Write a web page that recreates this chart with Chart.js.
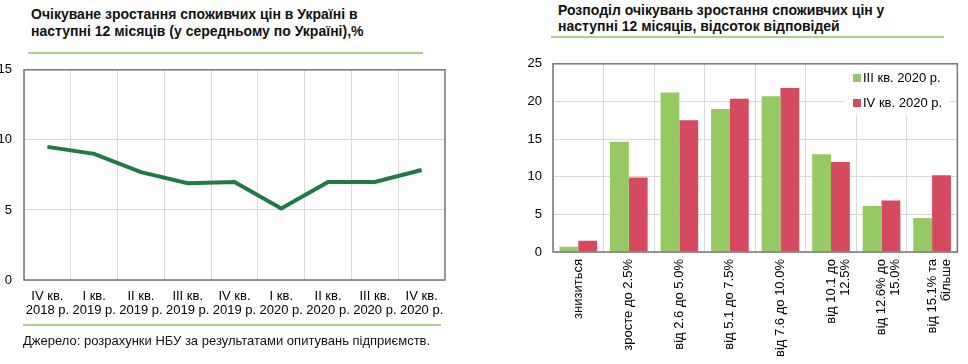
<!DOCTYPE html>
<html><head><meta charset="utf-8">
<script src="https://cdn.jsdelivr.net/npm/chart.js@4/dist/chart.umd.min.js"></script>
<style>
html,body{margin:0;padding:0;background:#fff;width:968px;height:364px;overflow:hidden;font-family:"Liberation Sans",Arial,sans-serif;}
.t{position:absolute;font-weight:bold;font-size:14px;color:#111;}
.gl{position:absolute;height:2px;background:#a9d18e;}
canvas{position:absolute;}
.src{position:absolute;font-size:13px;color:#111;}
</style></head><body>
<div class="t" style="left:31px;top:6px;line-height:17px;">Очікуване зростання споживчих цін в Україні в<br>наступні 12 місяців (у середньому по Україні),%</div>
<div class="gl" style="left:28px;top:52px;width:395px;"></div>
<div class="t" style="left:558px;top:3px;line-height:15.5px;">Розподіл очікувань зростання споживчих цін у<br>наступні 12 місяців, відсоток відповідей</div>
<div class="gl" style="left:551px;top:36px;width:393px;"></div>
<canvas id="c1" width="455" height="300" style="left:0;top:50px;"></canvas>
<canvas id="c2" width="478" height="319" style="left:490px;top:45px;"></canvas>
<div class="gl" style="left:23px;top:324px;width:418px;"></div>
<div class="src" style="left:23px;top:333px;">Джерело: розрахунки НБУ за результатами опитувань підприємств.</div>
<script>
const quarters = [["IV кв.","2018 р."],["I кв.","2019 р."],["II кв.","2019 р."],["III кв.","2019 р."],["IV кв.","2019 р."],["I кв.","2020 р."],["II кв.","2020 р."],["III кв.","2020 р."],["IV кв.","2020 р."]];
const expectedInflation = [9.5, 9.0, 7.7, 6.9, 7.0, 5.1, 7.0, 7.0, 7.85];
const ranges = ["знизиться","зросте до 2.5%","від 2.6 до 5.0%","від 5.1 до 7.5%","від 7.6 до 10.0%",["від 10.1 до","12.5%"],["від 12.6% до","15.0%"],["від 15.1% та","більше"]];
const q3_2020 = [0.7, 14.65, 21.2, 19.0, 20.7, 13.0, 6.1, 4.5];
const q4_2020 = [1.5, 9.9, 17.5, 20.35, 21.8, 11.95, 6.85, 10.2];
const seriesNames = ["III кв. 2020 р.","IV кв. 2020 р."];

Chart.defaults.font.family = '"Liberation Sans", Arial, sans-serif';
Chart.defaults.font.size = 13;
Chart.defaults.color = '#000';

const boxPlugin = {
  id:'box',
  afterDraw(chart){
    const a = chart.chartArea, c = chart.ctx;
    c.save(); c.strokeStyle='#767676'; c.lineWidth=1.5;
    c.strokeRect(a.left, a.top, a.right-a.left, a.bottom-a.top);
    c.restore();
  }
};

new Chart(document.getElementById('c1'), {
  type:'line',
  data:{labels:quarters, datasets:[{data:expectedInflation, borderColor:'#1f7a45', borderWidth:4, pointRadius:0, tension:0, fill:false}]},
  options:{
    responsive:false, animation:false,
    layout:{padding:{top:17,right:10,left:0,bottom:0}},
    plugins:{legend:{display:false}, tooltip:{enabled:false}},
    scales:{
      x:{offset:true, grid:{offset:true, color:'#d9d9d9', drawTicks:false}, border:{display:false},
         ticks:{maxRotation:0, autoSkip:false, padding:9, font:{size:13, lineHeight:1.12}},
         afterFit(s){ s.height = 70; }},
      y:{min:0, max:15, grid:{color:'#d9d9d9', drawTicks:false}, border:{display:false},
         ticks:{stepSize:5, padding:12, font:{size:13}},
         afterFit(s){ s.width = 24; }}
    }
  },
  plugins:[boxPlugin]
});

const legendPlugin = {
  id:'lg',
  beforeDatasetsDraw(chart){
    const c = chart.ctx;
    c.save();
    c.fillStyle='#fff'; c.fillRect(355,18,105,52);
    const cols=['#96c864','#d64a60'];
    const ys=[33,58];
    c.font='13px "Liberation Sans", Arial, sans-serif';
    c.textBaseline='middle'; c.textAlign='left';
    for(let i=0;i<2;i++){
      c.fillStyle=cols[i]; c.fillRect(363, ys[i]-4, 8, 8);
      c.fillStyle='#000'; c.fillText(seriesNames[i], 373, ys[i]+0.5);
    }
    c.restore();
  }
};

new Chart(document.getElementById('c2'), {
  type:'bar',
  data:{labels:ranges, datasets:[
    {label:seriesNames[0], data:q3_2020, backgroundColor:'#96c864', categoryPercentage:0.745, barPercentage:1.0},
    {label:seriesNames[1], data:q4_2020, backgroundColor:'#d64a60', categoryPercentage:0.745, barPercentage:1.0}
  ]},
  options:{
    responsive:false, animation:false,
    layout:{padding:{top:15,right:5,left:0,bottom:0}},
    plugins:{legend:{display:false}, tooltip:{enabled:false}},
    scales:{
      x:{grid:{offset:true, color:'#d9d9d9', drawTicks:false}, border:{display:false},
         ticks:{minRotation:90, maxRotation:90, autoSkip:false, padding:7, font:{size:13, lineHeight:1.1}},
         afterFit(s){ s.height = 112; }},
      y:{min:0, max:25, grid:{color:'#d9d9d9', drawTicks:false}, border:{display:false},
         ticks:{stepSize:5, padding:11, font:{size:13}},
         afterFit(s){ s.width = 63; }}
    }
  },
  plugins:[legendPlugin, boxPlugin]
});
</script>
</body></html>
